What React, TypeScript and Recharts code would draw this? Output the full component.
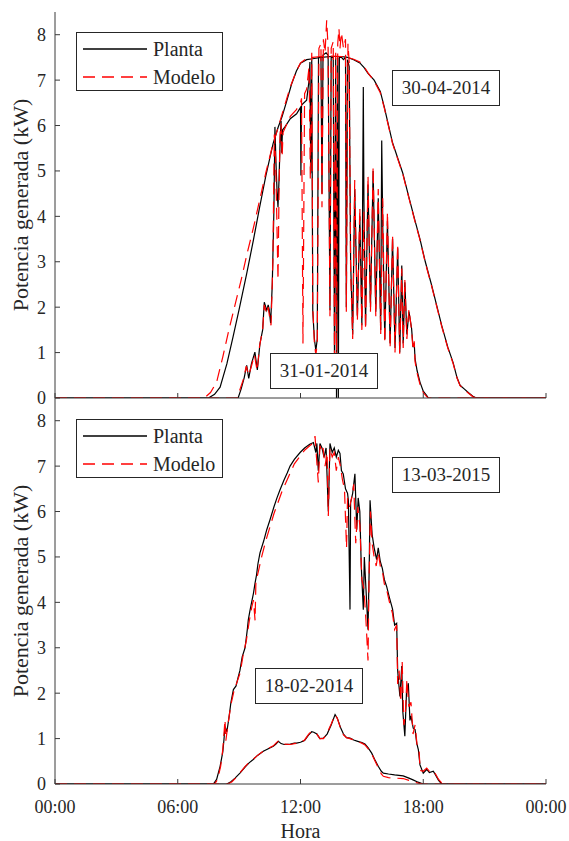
import React from "react";
import { LineChart, Line, XAxis, YAxis } from "recharts";

type Pt = [number, number]; // [hour, kW]

// 30-04-2014 (clear day, top panel)
const planta3004: Pt[] = [
  [0, 0], [7.5, 0], [7.8, 0.08], [8.07, 0.24], [8.4, 0.75], [8.7, 1.34], [9.0, 1.95], [9.37, 2.74],
  [9.7, 3.48], [10.0, 4.2], [10.3, 4.88], [10.66, 5.6], [10.9, 5.95], [11.1, 6.2], [11.3, 6.5],
  [11.57, 6.92], [11.8, 7.2], [12.0, 7.37], [12.3, 7.45], [12.6, 7.47], [13.0, 7.5], [13.5, 7.52],
  [14.0, 7.52], [14.3, 7.5], [14.6, 7.45], [14.9, 7.38], [15.1, 7.28], [15.3, 7.15], [15.6, 7.0],
  [15.9, 6.75], [16.1, 6.4], [16.2, 6.2], [16.5, 5.62], [16.8, 5.22], [17.0, 4.95], [17.3, 4.42],
  [17.6, 3.9], [17.84, 3.5], [18.1, 3.0], [18.4, 2.5], [18.65, 2.05], [18.9, 1.6], [19.2, 1.12],
  [19.46, 0.78], [19.65, 0.45], [19.8, 0.28], [20.0, 0.2], [20.2, 0.12], [20.45, 0.03], [20.6, 0], [24, 0],
];
const modelo3004: Pt[] = [
  [0, 0], [7.3, 0], [7.6, 0.12], [7.9, 0.35], [8.2, 0.9], [8.5, 1.5], [8.8, 2.05], [9.1, 2.6],
  [9.4, 3.2], [9.7, 3.75], [10.0, 4.35], [10.3, 4.95], [10.6, 5.5], [10.9, 5.95], [11.2, 6.4],
  [11.5, 6.85], [11.8, 7.2], [12.0, 7.38], [12.3, 7.48], [12.6, 7.5], [13.0, 7.52], [13.5, 7.53],
  [14.0, 7.52], [14.3, 7.5], [14.6, 7.46], [14.9, 7.4], [15.1, 7.3], [15.3, 7.16], [15.6, 6.98],
  [15.9, 6.72], [16.1, 6.38], [16.2, 6.18], [16.5, 5.6], [16.8, 5.2], [17.0, 4.93], [17.3, 4.4],
  [17.6, 3.88], [17.84, 3.48], [18.1, 2.98], [18.4, 2.48], [18.65, 2.03], [18.9, 1.58], [19.2, 1.1],
  [19.46, 0.76], [19.65, 0.44], [19.8, 0.27], [20.0, 0.19], [20.2, 0.11], [20.45, 0.02], [20.6, 0], [24, 0],
];

// 31-01-2014 (cloudy day, top panel)
const planta3101: Pt[] = [
  [0, 0], [8.95, 0], [9.1, 0.2], [9.25, 0.45], [9.37, 0.72], [9.47, 0.43], [9.6, 0.75], [9.77, 1.01],
  [9.89, 0.62], [10.02, 1.2], [10.15, 1.5], [10.23, 2.11], [10.35, 1.93], [10.42, 2.05], [10.47, 1.95],
  [10.54, 1.65], [10.62, 2.5], [10.7, 4.13], [10.75, 5.97], [10.8, 5.2], [10.85, 4.6], [10.9, 4.2],
  [10.95, 4.8], [11.0, 5.6], [11.05, 6.1], [11.08, 5.4], [11.12, 5.9], [11.24, 5.97], [11.5, 6.15],
  [11.81, 6.26], [12.0, 6.4], [12.02, 4.9], [12.05, 6.45], [12.3, 6.56], [12.42, 7.0], [12.46, 7.4],
  [12.5, 4.95], [12.55, 7.45], [12.6, 1.9], [12.68, 1.3], [12.75, 1.05], [12.82, 1.3], [12.88, 7.5],
  [13.0, 7.5], [13.05, 4.5], [13.1, 7.55], [13.25, 7.6], [13.35, 7.55], [13.44, 1.93], [13.5, 7.5],
  [13.6, 7.5], [13.66, 1.0], [13.72, 7.5], [13.76, 0], [13.82, 7.5], [13.85, 0], [13.9, 7.5],
  [14.0, 7.5], [14.1, 7.45], [14.2, 7.5], [14.24, 2.0], [14.3, 7.45], [14.38, 7.3], [14.45, 3.0],
  [14.55, 1.4], [14.65, 4.6], [14.78, 1.8], [14.9, 4.0], [15.0, 1.6], [15.07, 6.85], [15.1, 4.35],
  [15.18, 1.6], [15.3, 4.7], [15.42, 2.0], [15.55, 5.0], [15.68, 1.9], [15.8, 4.4], [15.92, 1.5],
  [15.97, 5.67], [16.02, 3.8], [16.12, 1.3], [16.25, 3.9], [16.38, 1.2], [16.5, 3.5], [16.62, 1.1],
  [16.75, 3.3], [16.85, 1.0], [16.95, 2.92], [17.02, 1.2], [17.1, 2.55], [17.2, 1.4], [17.3, 1.9],
  [17.43, 1.53], [17.5, 1.12], [17.56, 1.2], [17.6, 0.86], [17.7, 0.6], [17.84, 0.35], [18.0, 0.15],
  [18.17, 0.05], [18.25, 0], [24, 0],
];
const modelo3101: Pt[] = [
  [0, 0], [8.9, 0], [9.05, 0.2], [9.2, 0.4], [9.35, 0.7], [9.47, 0.5], [9.6, 0.7], [9.75, 0.95],
  [9.88, 0.6], [10.0, 1.15], [10.15, 1.5], [10.23, 2.05], [10.35, 1.85], [10.42, 2.0], [10.5, 1.75],
  [10.56, 1.6], [10.65, 3.0], [10.72, 5.8], [10.78, 5.3], [10.84, 4.0], [10.9, 2.6], [10.95, 4.5],
  [11.0, 5.8], [11.05, 6.05], [11.1, 5.3], [11.15, 5.85], [11.3, 6.0], [11.5, 6.2], [11.8, 6.35],
  [12.0, 6.5], [12.05, 6.6], [12.12, 1.2], [12.2, 6.7], [12.3, 6.8], [12.42, 7.3], [12.48, 4.8],
  [12.55, 7.6], [12.6, 2.0], [12.68, 1.2], [12.75, 0.95], [12.82, 1.2], [12.9, 7.7], [13.0, 7.8],
  [13.05, 4.2], [13.12, 7.9], [13.2, 7.6], [13.28, 8.32], [13.35, 7.7], [13.44, 1.8], [13.5, 7.7],
  [13.6, 7.85], [13.66, 0.9], [13.72, 7.6], [13.76, 0.2], [13.82, 7.8], [13.88, 8.14], [13.93, 7.7],
  [14.0, 8.05], [14.1, 7.7], [14.2, 7.9], [14.24, 1.9], [14.32, 7.8], [14.38, 7.4], [14.45, 2.8],
  [14.55, 1.3], [14.65, 4.8], [14.78, 1.7], [14.9, 4.2], [15.0, 1.5], [15.1, 4.1], [15.18, 1.5],
  [15.3, 4.9], [15.42, 1.9], [15.55, 5.1], [15.68, 1.8], [15.8, 4.6], [15.92, 1.4], [16.02, 4.4],
  [16.12, 1.2], [16.25, 4.1], [16.38, 1.1], [16.5, 3.6], [16.62, 1.0], [16.75, 3.4], [16.85, 0.95],
  [16.95, 2.85], [17.02, 1.1], [17.1, 2.6], [17.2, 1.3], [17.3, 1.95], [17.43, 1.5], [17.5, 1.05],
  [17.56, 1.25], [17.6, 0.8], [17.7, 0.55], [17.84, 0.3], [18.0, 0.12], [18.17, 0.03], [18.25, 0], [24, 0],
];

// 13-03-2015 (bottom panel)
const planta1303: Pt[] = [
  [0, 0], [7.74, 0], [7.9, 0.1], [8.07, 0.39], [8.2, 0.7], [8.26, 0.98], [8.31, 1.27], [8.4, 1.15],
  [8.5, 1.45], [8.6, 1.8], [8.72, 2.08], [8.85, 2.16], [8.95, 2.35], [9.04, 2.5], [9.15, 2.8],
  [9.29, 3.0], [9.4, 3.4], [9.45, 3.62], [9.53, 3.82], [9.61, 4.0], [9.7, 4.2], [9.78, 4.43],
  [9.85, 4.6], [9.92, 4.85], [10.02, 5.09], [10.2, 5.35], [10.35, 5.6], [10.51, 5.82], [10.7, 6.1],
  [10.85, 6.3], [11.0, 6.48], [11.2, 6.7], [11.35, 6.85], [11.49, 7.0], [11.7, 7.15], [11.98, 7.3],
  [12.2, 7.4], [12.45, 7.48], [12.63, 7.52], [12.75, 7.3], [12.8, 7.5], [12.87, 6.9], [12.95, 7.5],
  [13.05, 7.4], [13.15, 7.2], [13.25, 7.4], [13.36, 6.0], [13.44, 7.5], [13.55, 7.3], [13.65, 7.4],
  [13.75, 7.2], [13.85, 7.35], [13.93, 7.28], [14.0, 6.9], [14.09, 6.83], [14.2, 6.5], [14.3, 6.4],
  [14.34, 6.25], [14.42, 3.84], [14.45, 6.2], [14.55, 6.4], [14.66, 6.83], [14.75, 5.6], [14.82, 6.3],
  [14.9, 6.0], [14.97, 4.8], [15.07, 3.84], [15.12, 5.0], [15.2, 4.3], [15.3, 3.4], [15.36, 4.8],
  [15.4, 6.25], [15.5, 5.5], [15.6, 5.2], [15.72, 4.94], [15.8, 5.2], [15.9, 4.9], [16.0, 4.75],
  [16.1, 4.5], [16.21, 4.35], [16.35, 4.1], [16.5, 3.85], [16.6, 3.5], [16.7, 3.54], [16.75, 2.5],
  [16.8, 2.22], [16.86, 1.93], [16.95, 2.6], [17.0, 1.6], [17.1, 1.05], [17.18, 2.0], [17.27, 2.22],
  [17.35, 1.4], [17.4, 1.5], [17.51, 1.23], [17.6, 1.2], [17.68, 0.9], [17.76, 0.76], [17.84, 0.42],
  [18.0, 0.24], [18.17, 0.32], [18.3, 0.25], [18.49, 0.28], [18.6, 0.2], [18.75, 0.08], [18.9, 0], [24, 0],
];
const modelo1303: Pt[] = [
  [0, 0], [7.8, 0], [7.95, 0.1], [8.1, 0.4], [8.2, 0.75], [8.31, 1.42], [8.35, 0.95], [8.45, 1.3],
  [8.6, 1.75], [8.75, 2.05], [8.9, 2.25], [9.05, 2.45], [9.2, 2.85], [9.35, 3.15], [9.5, 3.6],
  [9.62, 3.9], [9.7, 4.05], [9.78, 3.6], [9.82, 4.45], [9.95, 4.7], [10.1, 5.0], [10.3, 5.35],
  [10.5, 5.65], [10.7, 5.95], [10.9, 6.2], [11.1, 6.45], [11.3, 6.65], [11.5, 6.85], [11.7, 7.05],
  [11.95, 7.2], [12.2, 7.35], [12.45, 7.45], [12.6, 7.5], [12.71, 7.66], [12.78, 7.2], [12.87, 6.64],
  [12.95, 7.45], [13.05, 7.3], [13.1, 7.4], [13.2, 7.0], [13.3, 7.3], [13.36, 5.9], [13.44, 7.4],
  [13.55, 7.2], [13.65, 7.3], [13.75, 6.9], [13.85, 7.2], [13.95, 7.0], [14.05, 6.7], [14.15, 6.5],
  [14.25, 5.2], [14.3, 6.3], [14.4, 6.1], [14.5, 6.3], [14.6, 6.6], [14.7, 5.3], [14.8, 6.1],
  [14.9, 5.7], [15.0, 4.5], [15.1, 4.3], [15.2, 3.6], [15.3, 2.72], [15.35, 4.5], [15.42, 6.0],
  [15.5, 5.3], [15.6, 5.0], [15.7, 4.8], [15.8, 5.1], [15.9, 4.8], [16.0, 4.7], [16.1, 4.4],
  [16.2, 4.3], [16.35, 4.0], [16.5, 3.75], [16.6, 3.4], [16.7, 3.5], [16.75, 2.2], [16.82, 2.5],
  [16.9, 1.8], [16.97, 2.7], [17.05, 1.3], [17.12, 1.5], [17.2, 2.3], [17.3, 1.7], [17.4, 1.8],
  [17.5, 1.1], [17.6, 1.3], [17.7, 0.85], [17.8, 0.7], [17.85, 0.3], [18.0, 0.28], [18.17, 0.35],
  [18.3, 0.28], [18.49, 0.3], [18.6, 0.22], [18.75, 0.1], [18.95, 0], [24, 0],
];

// 18-02-2014 (bottom panel)
const planta1802: Pt[] = [
  [0, 0], [8.4, 0], [8.6, 0.05], [8.8, 0.13], [9.04, 0.24], [9.3, 0.38], [9.5, 0.47], [9.69, 0.54],
  [9.9, 0.63], [10.18, 0.72], [10.4, 0.77], [10.67, 0.83], [10.8, 0.88], [10.92, 0.94], [11.05, 0.89],
  [11.2, 0.87], [11.5, 0.88], [11.7, 0.9], [11.81, 0.9], [12.0, 0.92], [12.2, 0.96], [12.4, 1.08],
  [12.55, 1.15], [12.65, 1.14], [12.8, 1.1], [12.95, 1.0], [13.12, 1.01], [13.3, 1.1], [13.5, 1.3],
  [13.69, 1.53], [13.8, 1.45], [13.95, 1.25], [14.1, 1.1], [14.25, 1.02], [14.42, 1.01], [14.6, 0.97],
  [14.8, 0.94], [15.0, 0.91], [15.15, 0.88], [15.3, 0.8], [15.48, 0.68], [15.65, 0.52], [15.8, 0.39],
  [15.95, 0.28], [16.05, 0.24], [16.3, 0.22], [16.6, 0.2], [17.02, 0.18], [17.3, 0.13], [17.5, 0.09],
  [17.75, 0.04], [18.0, 0], [24, 0],
];
const modelo1802: Pt[] = [
  [0, 0], [8.45, 0], [8.65, 0.05], [8.85, 0.14], [9.05, 0.25], [9.3, 0.39], [9.5, 0.48], [9.7, 0.55],
  [9.9, 0.63], [10.2, 0.73], [10.4, 0.78], [10.67, 0.84], [10.8, 0.9], [10.92, 0.95], [11.05, 0.9],
  [11.2, 0.88], [11.5, 0.87], [11.7, 0.89], [11.85, 0.9], [12.0, 0.91], [12.2, 0.97], [12.4, 1.1],
  [12.55, 1.16], [12.65, 1.13], [12.8, 1.1], [12.95, 1.0], [13.12, 1.0], [13.3, 1.12], [13.5, 1.32],
  [13.69, 1.53], [13.8, 1.44], [13.95, 1.24], [14.1, 1.08], [14.25, 1.02], [14.42, 1.0], [14.6, 0.97],
  [14.8, 0.93], [15.0, 0.9], [15.15, 0.86], [15.3, 0.78], [15.48, 0.66], [15.65, 0.5], [15.8, 0.36],
  [15.95, 0.22], [16.05, 0.17], [16.3, 0.14], [16.6, 0.13], [17.02, 0.12], [17.3, 0.08], [17.5, 0.05],
  [17.75, 0.02], [18.0, 0], [24, 0],
];

const hourTicks = [0, 6, 12, 18, 24];
const hourLabels = ["00:00", "06:00", "12:00", "18:00", "00:00"];
const kwTicks = [0, 1, 2, 3, 4, 5, 6, 7, 8];

const FONT = "Liberation Serif, Tinos, Times New Roman, DejaVu Serif, serif";
const AXIS = "#3a3a3a";
const TXT = "#262626";
const RED = "#ff0000";
const DASH = "12 7";

const toRows = (pts: Pt[]) => pts.map(([t, v]) => ({ t, v }));
const fmtHour = (v: number) => hourLabels[hourTicks.indexOf(v)] ?? "";
const blank = () => "";

function Panel({ plantas, modelos, bottom }: { plantas: Pt[][]; modelos: Pt[][]; bottom: boolean }) {
  const tick = { fontSize: 18, fill: TXT, fontFamily: FONT };
  return (
    <LineChart
      width={569}
      height={bottom ? 453 : 410}
      margin={{ top: bottom ? 10 : 12, right: 23, bottom: 0, left: 0 }}
      style={{ fontFamily: FONT }}
    >
      <XAxis
        xAxisId="b"
        type="number"
        dataKey="t"
        domain={[0, 24]}
        ticks={hourTicks}
        interval={0}
        tickFormatter={bottom ? fmtHour : blank}
        height={bottom ? 57 : 12}
        tickSize={-5}
        tickMargin={21}
        stroke={AXIS}
        tick={tick}
        allowDataOverflow
        label={
          bottom
            ? { value: "Hora", position: "insideBottom", offset: 3, fontSize: 20, fill: TXT, fontFamily: FONT }
            : undefined
        }
      />
      <XAxis
        xAxisId="t"
        orientation="top"
        type="number"
        dataKey="t"
        domain={[0, 24]}
        ticks={hourTicks}
        interval={0}
        tickFormatter={blank}
        height={0}
        tickSize={-5}
        stroke={AXIS}
        tick={tick}
        allowDataOverflow
      />
      <YAxis
        yAxisId="l"
        type="number"
        domain={[0, 8.5]}
        ticks={kwTicks}
        interval={0}
        width={55}
        tickSize={-5}
        tickMargin={14}
        stroke={AXIS}
        tick={tick}
        allowDataOverflow
        label={{
          value: "Potencia generada (kW)",
          angle: -90,
          position: "center",
          dx: -7,
          fontSize: 22,
          fill: TXT,
          fontFamily: FONT,
        }}
      />
      <YAxis
        yAxisId="r"
        orientation="right"
        type="number"
        domain={[0, 8.5]}
        ticks={kwTicks}
        interval={0}
        width={0}
        tickSize={-5}
        tickFormatter={blank}
        stroke={AXIS}
        tick={tick}
        allowDataOverflow
      />
      {plantas.map((d, i) => (
        <Line
          key={"p" + i}
          xAxisId="b"
          yAxisId="l"
          data={toRows(d)}
          dataKey="v"
          type="linear"
          stroke="#000"
          strokeWidth={1.2}
          dot={false}
          activeDot={false}
          isAnimationActive={false}
        />
      ))}
      {modelos.map((d, i) => (
        <Line
          key={"m" + i}
          xAxisId="b"
          yAxisId="l"
          data={toRows(d)}
          dataKey="v"
          type="linear"
          stroke={RED}
          strokeWidth={1.2}
          strokeDasharray={DASH}
          dot={false}
          activeDot={false}
          isAnimationActive={false}
        />
      ))}
    </LineChart>
  );
}

const legendItems = [
  { name: "Planta", color: "#000", dash: undefined as string | undefined },
  { name: "Modelo", color: RED, dash: DASH },
];

function LegendBox({ top }: { top: number }) {
  return (
    <div
      style={{
        position: "absolute",
        left: 76,
        top,
        width: 147,
        height: 59,
        boxSizing: "border-box",
        border: `1px solid ${TXT}`,
        background: "#fff",
      }}
    >
      {legendItems.map((item, i) => (
        <div
          key={item.name}
          style={{ position: "absolute", left: 6, top: 2 + i * 28, height: 28, display: "flex", alignItems: "center" }}
        >
          <svg width={64} height={4}>
            <line x1={0} x2={64} y1={2} y2={2} stroke={item.color} strokeWidth={1.3} strokeDasharray={item.dash} />
          </svg>
          <span style={{ marginLeft: 6, fontSize: 20, color: TXT, lineHeight: "28px" }}>{item.name}</span>
        </div>
      ))}
    </div>
  );
}

function DateBox({ text, left, top }: { text: string; left: number; top: number }) {
  return (
    <div
      style={{
        position: "absolute",
        left,
        top,
        width: 108,
        height: 36,
        boxSizing: "border-box",
        border: `1px solid ${TXT}`,
        background: "#fff",
        display: "flex",
        alignItems: "center",
        justifyContent: "center",
        fontSize: 19,
        color: TXT,
      }}
    >
      {text}
    </div>
  );
}

export default function App() {
  return (
    <div
      style={{
        position: "absolute",
        left: 0,
        top: 0,
        width: 569,
        height: 841,
        background: "#fff",
        fontFamily: FONT,
        overflow: "hidden",
      }}
    >
      <div style={{ position: "absolute", left: 0, top: 0 }}>
        <Panel plantas={[planta3004, planta3101]} modelos={[modelo3004, modelo3101]} bottom={false} />
      </div>
      <div style={{ position: "absolute", left: 0, top: 388 }}>
        <Panel plantas={[planta1303, planta1802]} modelos={[modelo1303, modelo1802]} bottom />
      </div>
      <LegendBox top={32} />
      <LegendBox top={419} />
      <DateBox text="30-04-2014" left={392} top={70} />
      <DateBox text="31-01-2014" left={270} top={353} />
      <DateBox text="13-03-2015" left={392} top={457} />
      <DateBox text="18-02-2014" left={255} top={668} />
    </div>
  );
}
